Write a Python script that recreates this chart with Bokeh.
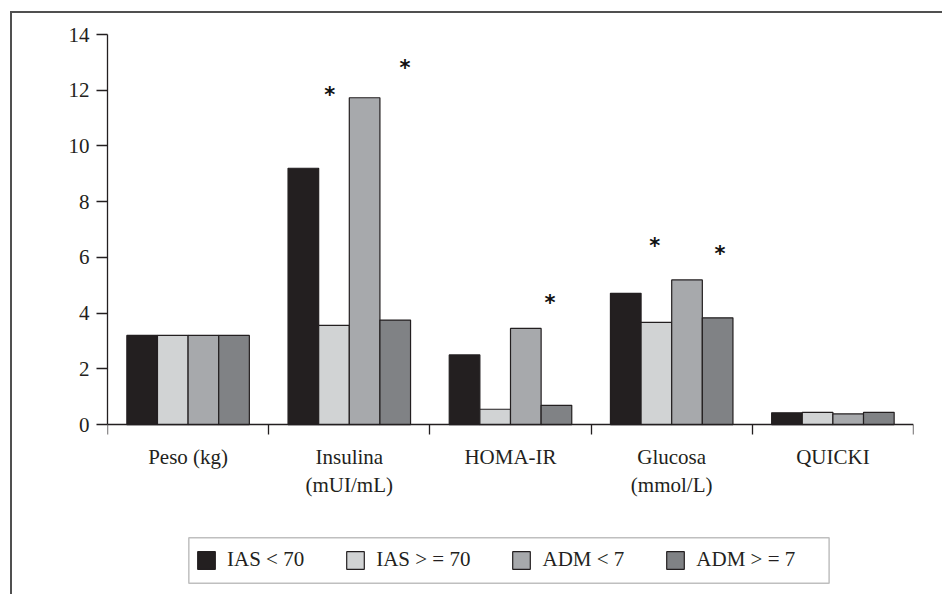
from bokeh.plotting import figure
from bokeh.models import FixedTicker, Legend, LegendItem, ColumnDataSource, Range1d, BoxAnnotation
from bokeh.core.properties import value
from bokeh.embed import file_html
from bokeh.resources import INLINE

# ---- data ----
categories = ["Peso (kg)", "Insulina\n(mUI/mL)", "HOMA-IR", "Glucosa\n(mmol/L)", "QUICKI"]
series = ["IAS < 70", "IAS > = 70", "ADM < 7", "ADM > = 7"]
ias_lt70 = [3.2, 9.2, 2.5, 4.71, 0.42]
ias_ge70 = [3.2, 3.56, 0.55, 3.67, 0.44]
adm_lt7 = [3.2, 11.73, 3.45, 5.19, 0.38]
adm_ge7 = [3.2, 3.75, 0.69, 3.83, 0.44]
y_ticks = [0, 2, 4, 6, 8, 10, 12, 14]
# significance asterisks: category index, position inside category, value
star_category = [1, 1, 2, 3, 3]
star_pos = [0.378, 0.845, 0.745, 0.395, 0.80]
star_value = [11.94, 12.91, 4.47, 6.52, 6.22]

colors = ["#231f20", "#d1d3d4", "#a7a9ac", "#808285"]
offsets = [-0.285, -0.095, 0.095, 0.285]
bar_w = 0.19
FONT = "Liberation Serif"
INK = "#231f20"

# outer frame of the original figure (runs off the right and bottom edges)
frame_css = ("linear-gradient(#505050,#505050) 10px 11px / 2px 600px no-repeat, "
             "linear-gradient(#505050,#505050) 10px 11px / 940px 2px no-repeat, white")

# the plotting area extends below zero so the legend can sit under the axis
p = figure(width=942, height=594, output_backend="svg", toolbar_location=None,
           x_range=Range1d(0, len(categories)), y_range=Range1d(-6.1, 14),
           min_border_left=107, min_border_right=29, min_border_top=34, min_border_bottom=0,
           styles={"background": frame_css})
p.outline_line_color = None
p.xgrid.grid_line_color = None
p.ygrid.grid_line_color = None
p.background_fill_color = None
p.border_fill_color = None

renderers = []
for vals, col, off in zip([ias_lt70, ias_ge70, adm_lt7, adm_ge7], colors, offsets):
    src = ColumnDataSource(dict(x=[i + 0.5 + off for i in range(len(categories))], top=vals))
    r = p.vbar(x="x", top="top", bottom=0, width=bar_w, source=src,
               fill_color=col, line_color=INK, line_width=1.2)
    renderers.append(r)

# asterisks
star_src = ColumnDataSource(dict(x=[c + s for c, s in zip(star_category, star_pos)], y=star_value,
                                 t=["*"] * len(star_value)))
p.text(x="x", y="y", text="t", source=star_src, text_font=value("DejaVu Sans"),
       text_font_size="21px", text_font_style="bold", text_align="center",
       text_baseline="alphabetic", y_offset=3, text_color="#111111")

# x axis, drawn at y = 0
xa = p.xaxis[0]
xa.fixed_location = 0
xa.ticker = FixedTicker(ticks=[i + 0.5 for i in range(len(categories))],
                        minor_ticks=list(range(len(categories) + 1)))
xa.major_label_overrides = {i + 0.5: c for i, c in enumerate(categories)}
xa.major_tick_in = 0
xa.major_tick_out = 0
xa.minor_tick_in = 0
xa.minor_tick_out = 10
xa.minor_tick_line_color = INK
xa.minor_tick_line_width = 1.3
xa.axis_line_color = INK
xa.axis_line_width = 1.3
xa.major_label_text_font = FONT
xa.major_label_text_font_size = "21px"
xa.major_label_text_color = INK
xa.major_label_standoff = 10

# y axis
ya = p.yaxis[0]
ya.bounds = (0, 14)
ya.ticker = FixedTicker(ticks=y_ticks, minor_ticks=[])
ya.major_tick_in = 0
ya.major_tick_out = 11
ya.major_tick_line_color = INK
ya.major_tick_line_width = 1.3
ya.axis_line_color = INK
ya.axis_line_width = 1.3
ya.major_label_text_font = FONT
ya.major_label_text_font_size = "21px"
ya.major_label_text_color = INK
ya.major_label_standoff = 7

# legend box outline (wider on the right than Bokeh's symmetric padding allows)
legend_box = BoxAnnotation(left=0.5045, right=4.4765, top=-4.067, bottom=-5.696,
                           fill_color="white", fill_alpha=1,
                           line_color="#2a2a2a", line_width=1.5, level="overlay")
p.add_layout(legend_box)

legend = Legend(items=[LegendItem(label=s, renderers=[r]) for s, r in zip(series, renderers)],
                orientation="horizontal", location=(88, 22),
                glyph_width=22, glyph_height=22, label_standoff=10, spacing=40,
                padding=0, margin=0,
                label_text_font=FONT, label_text_font_size="21px", label_text_color=INK,
                border_line_color=None, background_fill_alpha=0)
p.add_layout(legend, "center")

open("out.html", "w").write(file_html(p, INLINE))
